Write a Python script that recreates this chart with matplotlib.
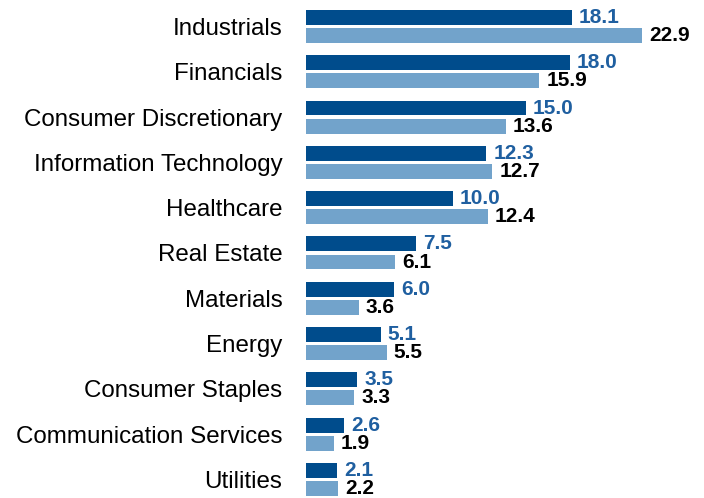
import matplotlib.pyplot as plt

sectors = ["Industrials", "Financials", "Consumer Discretionary", "Information Technology",
           "Healthcare", "Real Estate", "Materials", "Energy", "Consumer Staples",
           "Communication Services", "Utilities"]
series_dark = [18.1, 18.0, 15.0, 12.3, 10.0, 7.5, 6.0, 5.1, 3.5, 2.6, 2.1]
series_light = [22.9, 15.9, 13.6, 12.7, 12.4, 6.1, 3.6, 5.5, 3.3, 1.9, 2.2]

dark = "#004c8c"
light = "#72a3cb"
label_blue = "#1f5fa0"

plt.rcParams['font.family'] = ['Liberation Sans', 'DejaVu Sans']

fig = plt.figure(figsize=(7.04, 4.98), dpi=100)
ax = fig.add_axes([306 / 704, 0, 1 - 306 / 704, 1])

pos = list(range(len(sectors)))
h = 0.33
off = 0.2
ax.barh([p - off for p in pos], series_dark, height=h, color=dark)
ax.barh([p + off for p in pos], series_light, height=h, color=light)

for p, v in zip(pos, series_dark):
    ax.annotate(f"{v:.1f}", (v, p - off), xytext=(5, 0), textcoords="offset points",
                va="center", ha="left", fontsize=15, fontweight="bold", color=label_blue)
for p, v in zip(pos, series_light):
    ax.annotate(f"{v:.1f}", (v, p + off), xytext=(5, 0), textcoords="offset points",
                va="center", ha="left", fontsize=15, fontweight="bold", color="black")

ax.set_yticks(pos)
ax.set_yticklabels(sectors, fontsize=17.4)
ax.tick_params(axis="y", length=0, pad=17)
ax.set_xticks([])
ax.set_xlim(0, 27.13)
ax.set_ylim(10.41, -0.585)
for s in ax.spines.values():
    s.set_visible(False)

fig.savefig("out.png", dpi=100)
